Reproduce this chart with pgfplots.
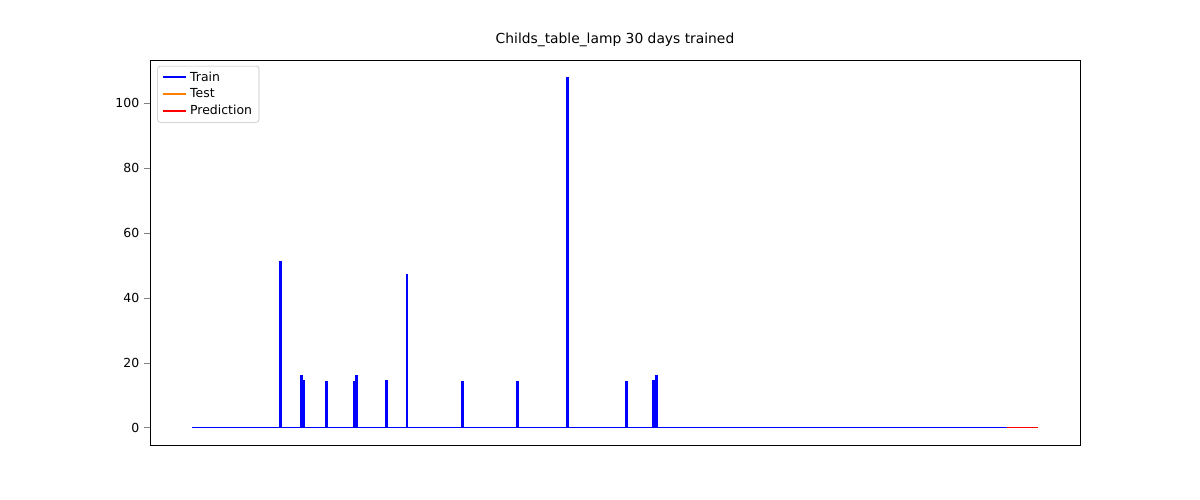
\documentclass[border=0pt]{standalone}
\usepackage{pgfplots}
\pgfplotsset{compat=1.18}
\usepackage{fontspec}
\setmainfont{DejaVu Sans}
\begin{document}
\begin{tikzpicture}
\path[use as bounding box] (0,0) rectangle (12in,5in);
\begin{axis}[at={(1.5in,0.55in)}, anchor=south west, width=9.3in, height=3.85in, scale only axis,
xmin=-50, xmax=1050, ymin=-5.4, ymax=113.4, xtick=\empty, ytick pos=left,
/pgf/number format/assume math mode=true,
ytick={0,20,40,60,80,100}, tick label style={font=\small}, tick align=outside,
title={Childs\_table\_lamp 30 days trained}, title style={font=\normalsize},
legend style={at={(0.008,0.985)}, anchor=north west, font=\small, cells={anchor=west}, legend cell align=left, draw=gray!50, rounded corners=2pt}]
\addplot[draw=blue, no markers, sharp plot, line width=1.4pt] coordinates {
(0,0)(103.4,0)(103.4,51)(104.6,51)(104.6,0)(128.4,0)(128.4,16)(129.6,16)(129.6,0)(130.4,0)(130.4,14.5)(131.6,14.5)(131.6,0)
(158.4,0)(158.4,14)(159.6,14)(159.6,0)(191.4,0)(191.4,14)(192.6,14)(192.6,0)(193.4,0)(193.4,16)(194.6,16)(194.6,0)
(229.4,0)(229.4,14.5)(230.6,14.5)(230.6,0)(253.4,0)(253.4,47)(254.6,47)(254.6,0)(319.4,0)(319.4,14)(320.6,14)(320.6,0)
(384.4,0)(384.4,14)(385.6,14)(385.6,0)(443.4,0)(443.4,108)(444.6,108)(444.6,0)(513.4,0)(513.4,14)(514.6,14)(514.6,0)
(545.4,0)(545.4,14.5)(546.6,14.5)(546.6,0)(548.4,0)(548.4,16)(549.6,16)(549.6,0)(964,0)};
\addlegendentry{Train}
\addplot[draw=orange, no markers, sharp plot, line width=1.4pt] coordinates {(964,0)(1000,0)};
\addlegendentry{Test}
\addplot[draw=red, no markers, sharp plot, line width=1.4pt] coordinates {(964,0)(1000,0)};
\addlegendentry{Prediction}
\end{axis}
\end{tikzpicture}
\end{document}
